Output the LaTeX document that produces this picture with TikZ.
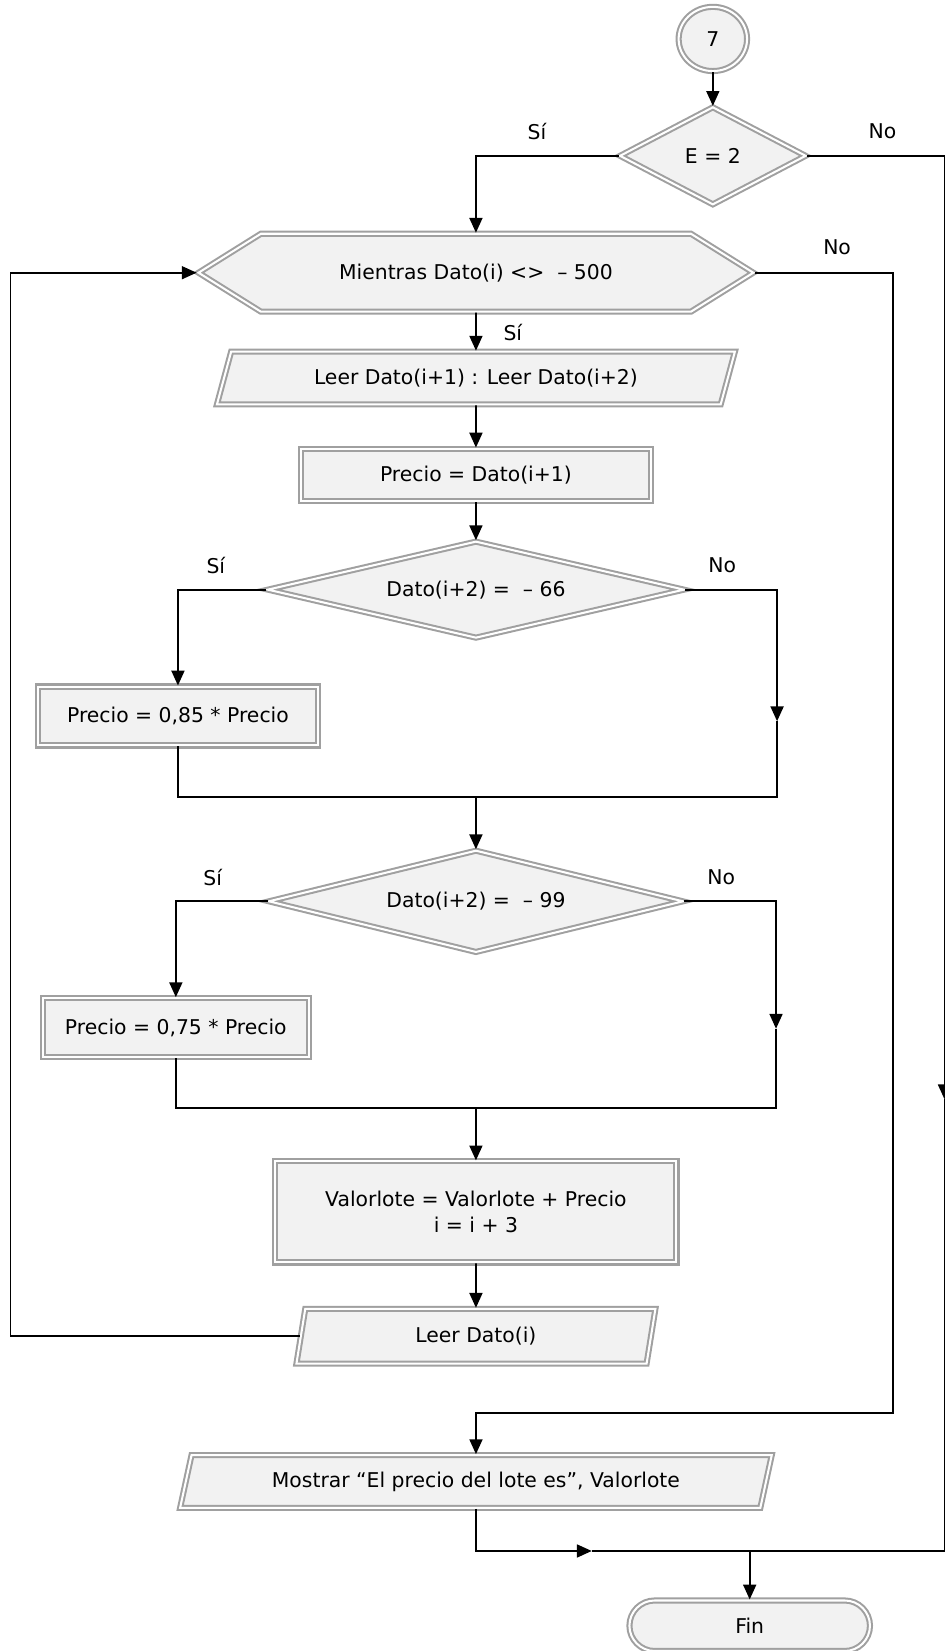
\documentclass[tikz,border=0pt]{standalone}
\usepackage{fontspec}
\setmainfont{DejaVu Sans}
\usetikzlibrary{shapes.geometric,shapes.misc,shapes.symbols,arrows.meta,positioning}
\definecolor{boxfill}{HTML}{F2F2F2}
\definecolor{framegray}{HTML}{A0A0A0}

\begin{document}
\begin{tikzpicture}[x=0.02cm, y=-0.02cm, line width=0.95pt,
		box/.style={draw=framegray, double=white, double distance=1.1pt, line width=1.1pt,
			fill=boxfill, inner sep=1pt, font=\fontsize{11}{14}\selectfont},
		proc/.style={box, rectangle},
		cond/.style={box, diamond, inner sep=0pt},
		io/.style={box, trapezium, trapezium stretches body},
		lbl/.style={font=\fontsize{11}{13}\selectfont},
		arr/.style={-{Triangle[length=8pt,width=7pt]}}]
		\useasboundingbox (0,0) rectangle (897,1568);

		% figuras
		\node[box, ellipse, minimum width=1.3cm, minimum height=1.22cm] (c7) at (677,37) {7};
		\node[cond, aspect=1.9, minimum width=3.54cm, minimum height=1.86cm] (dE) at (677,148) {E = 2};
		\node[box, signal, signal to=west and east, signal pointer angle=64,
			minimum width=10.54cm, minimum height=1.48cm] (hx) at (452,259) {Mientras Dato(i) <>\ \ – 500};
		\node[io, trapezium left angle=57, trapezium right angle=123,
			minimum width=9.84cm, minimum height=1cm] (leer12) at (452,359) {Leer Dato(i+1) : Leer Dato(i+2)};
		\node[proc, minimum width=6.64cm, minimum height=1cm] (pr1) at (452,451) {Precio = Dato(i+1)};
		\node[cond, aspect=4.3, minimum width=7.92cm, minimum height=1.84cm] (d66) at (452,560) {Dato(i+2) =\ \ – 66};
		\node[proc, minimum width=5.32cm, minimum height=1.12cm] (pr85) at (169,680) {Precio = 0,85 * Precio};
		\node[cond, aspect=4.06, minimum width=7.88cm, minimum height=1.94cm] (d99) at (452,856) {Dato(i+2) =\ \ – 99};
		\node[proc, minimum width=5.06cm, minimum height=1.12cm] (pr75) at (167,976) {Precio = 0,75 * Precio};
		\node[proc, align=center, minimum width=7.62cm, minimum height=1.92cm] (val) at (452,1151) {Valorlote = Valorlote + Precio\\i = i + 3};
		\node[io, trapezium left angle=68, trapezium right angle=112,
			minimum width=6.82cm, minimum height=1.04cm] (leeri) at (452,1269) {Leer Dato(i)};
		\node[io, trapezium left angle=64, trapezium right angle=116,
			minimum width=11.24cm, minimum height=1cm] (mostrar) at (452,1407) {Mostrar “El precio del lote es”, Valorlote};
		\node[box, rounded rectangle, minimum width=4.64cm, minimum height=0.96cm] (fin) at (712,1544) {Fin};

		% etiquetas
		\node[lbl] (siE) at (510,125) {Sí};
		\node[lbl] (noE) at (838,125) {No};
		\node[lbl] (noH) at (795,235) {No};
		\node[lbl] (siH) at (487,316) {Sí};
		\node[lbl] (si66) at (205,537) {Sí};
		\node[lbl] (no66) at (686,537) {No};
		\node[lbl] (si99) at (202,833) {Sí};
		\node[lbl] (no99) at (685,833) {No};

		% puntos de paso
		\coordinate (aE) at (897,1044);
		\coordinate (cE) at (897,1473);
		\coordinate (jn) at (712,1473);
		\coordinate (aM) at (562,1473);
		\coordinate (cH) at (848,1342);
		\coordinate (lpT) at (10,259);
		\coordinate (a66) at (738,685);
		\coordinate (m66) at (452,757);
		\coordinate (a99) at (737,977);
		\coordinate (m99) at (452,1052);

		\draw[arr] (c7) -- (dE);
		\draw[arr] (dE.west) -| (hx.north);
		\draw[arr] (dE.east) -| (aE);
		\draw (aE) -- (cE) -- (jn);
		\draw[arr] (hx.south) -- (leer12.north);
		\draw[arr] (hx.east) -| (cH) -| (mostrar.north);
		\draw[arr] (leer12.south) -- (pr1.north);
		\draw[arr] (pr1.south) -- (d66.north);
		\draw[arr] (d66.west) -| (pr85.north);
		\draw[arr] (d66.east) -| (a66);
		\draw (a66) |- (m66);
		\draw (pr85.south) |- (m66);
		\draw[arr] (m66) -- (d99.north);
		\draw[arr] (d99.west) -| (pr75.north);
		\draw[arr] (d99.east) -| (a99);
		\draw (a99) |- (m99);
		\draw (pr75.south) |- (m99);
		\draw[arr] (m99) -- (val.north);
		\draw[arr] (val.south) -- (leeri.north);
		\draw[arr] (leeri.west) -| (lpT) -- (hx.west);
		\draw[arr] (mostrar.south) |- (aM);
		\draw (aM) -- (jn);
		\draw[arr] (jn) -- (fin.north);
	\end{tikzpicture}
\end{document}
